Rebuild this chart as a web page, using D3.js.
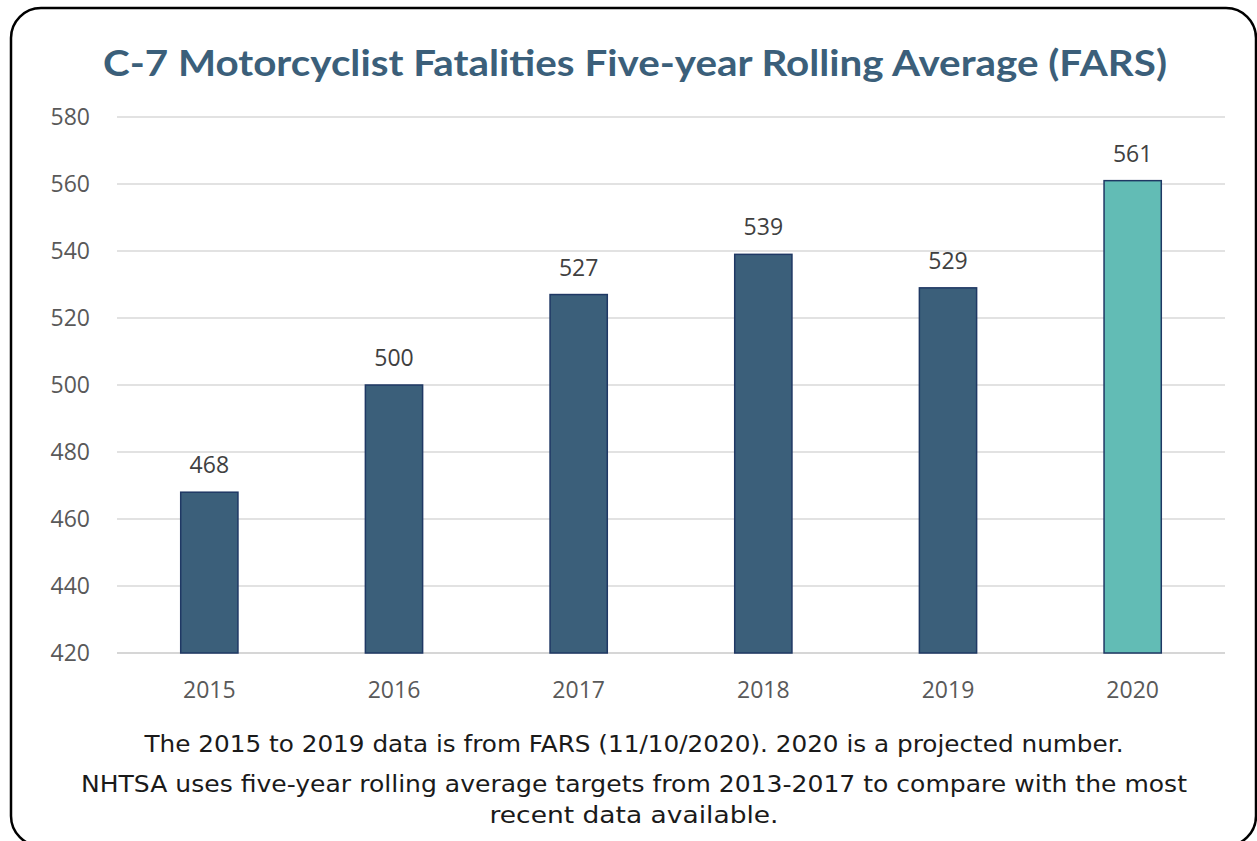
<!DOCTYPE html>
<html>
<head>
<meta charset="utf-8">
<script src="https://cdn.jsdelivr.net/npm/d3@7"></script>
<style>
  html, body { margin: 0; padding: 0; background: #fff; }
  svg { display: block; }
</style>
</head>
<body>
<div id="chart"></div>
<script>
  const years = ["2015", "2016", "2017", "2018", "2019", "2020"];
  const fatalities = [468, 500, 527, 539, 529, 561];
  const yTicks = [420, 440, 460, 480, 500, 520, 540, 560, 580];
  const notes = [
    "The 2015 to 2019 data is from FARS (11/10/2020). 2020 is a projected number.",
    "NHTSA uses five-year rolling average targets from 2013-2017 to compare with the most",
    "recent data available."
  ];

  const width = 1257;
  const height = 841;

  const svg = d3
    .select("#chart")
    .append("svg")
    .attr("width", width)
    .attr("height", height);

  // rounded frame, bottom edge falls just below the picture
  svg
    .append("rect")
    .attr("x", 11)
    .attr("y", 8)
    .attr("width", 1245)
    .attr("height", 838)
    .attr("rx", 30)
    .attr("fill", "#fff")
    .attr("stroke", "#000")
    .attr("stroke-width", 2.5);

  svg
    .append("text")
    .attr("x", 635)
    .attr("y", 76)
    .attr("text-anchor", "middle")
    .attr("font-family", "Lato, 'Open Sans', sans-serif")
    .attr("font-weight", "bold")
    .attr("font-size", 37)
    .attr("fill", "#3b5f7a")
    .attr("textLength", 1064)
    .attr("lengthAdjust", "spacingAndGlyphs")
    .text("C-7 Motorcyclist Fatalities Five-year Rolling Average (FARS)");

  const x = d3
    .scaleBand()
    .domain(years)
    .range([117, 1225])
    .paddingInner(0.69)
    .paddingOuter(0.345);

  const y = d3.scaleLinear().domain([420, 580]).range([653, 117]);

  // gridlines
  svg
    .append("g")
    .selectAll("line")
    .data(yTicks)
    .enter()
    .append("line")
    .attr("x1", 117)
    .attr("x2", 1225)
    .attr("y1", (d) => y(d))
    .attr("y2", (d) => y(d))
    .attr("stroke", (d) => (d === 420 ? "#c8c8c8" : "#d9d9d9"))
    .attr("stroke-width", 1.5);

  // y tick labels
  svg
    .append("g")
    .selectAll("text")
    .data(yTicks)
    .enter()
    .append("text")
    .attr("x", 90)
    .attr("y", (d) => y(d))
    .attr("dy", "0.35em")
    .attr("text-anchor", "end")
    .attr("font-family", "'Open Sans', sans-serif")
    .attr("font-size", 23)
    .attr("fill", "#595959")
    .text((d) => d);

  // bars
  svg
    .append("g")
    .selectAll("rect")
    .data(years)
    .enter()
    .append("rect")
    .attr("x", (d) => x(d))
    .attr("width", x.bandwidth())
    .attr("y", (d, i) => y(fatalities[i]))
    .attr("height", (d, i) => y(420) - y(fatalities[i]))
    .attr("fill", (d) => (d === "2020" ? "#62bcb5" : "#3b5f7a"))
    .attr("stroke", "#1f3864")
    .attr("stroke-width", 1.5);

  // value labels
  svg
    .append("g")
    .selectAll("text")
    .data(years)
    .enter()
    .append("text")
    .attr("x", (d) => x(d) + x.bandwidth() / 2)
    .attr("y", (d, i) => y(fatalities[i]) - 19)
    .attr("text-anchor", "middle")
    .attr("font-family", "'Open Sans', sans-serif")
    .attr("font-size", 23)
    .attr("fill", "#404040")
    .text((d, i) => fatalities[i]);

  // x labels
  svg
    .append("g")
    .selectAll("text")
    .data(years)
    .enter()
    .append("text")
    .attr("x", (d) => x(d) + x.bandwidth() / 2)
    .attr("y", 698)
    .attr("text-anchor", "middle")
    .attr("font-family", "'Open Sans', sans-serif")
    .attr("font-size", 23)
    .attr("fill", "#595959")
    .text((d) => d);

  // footnotes
  const noteY = [752, 792, 823];
  const noteW = [979, 1106, 289];
  svg
    .append("g")
    .selectAll("text")
    .data(notes)
    .enter()
    .append("text")
    .attr("x", 634)
    .attr("y", (d, i) => noteY[i])
    .attr("text-anchor", "middle")
    .attr("font-family", "'DejaVu Sans', sans-serif")
    .attr("font-size", 23)
    .attr("fill", "#1a1a1a")
    .attr("textLength", (d, i) => noteW[i])
    .attr("lengthAdjust", "spacingAndGlyphs")
    .text((d) => d);
</script>
</body>
</html>
